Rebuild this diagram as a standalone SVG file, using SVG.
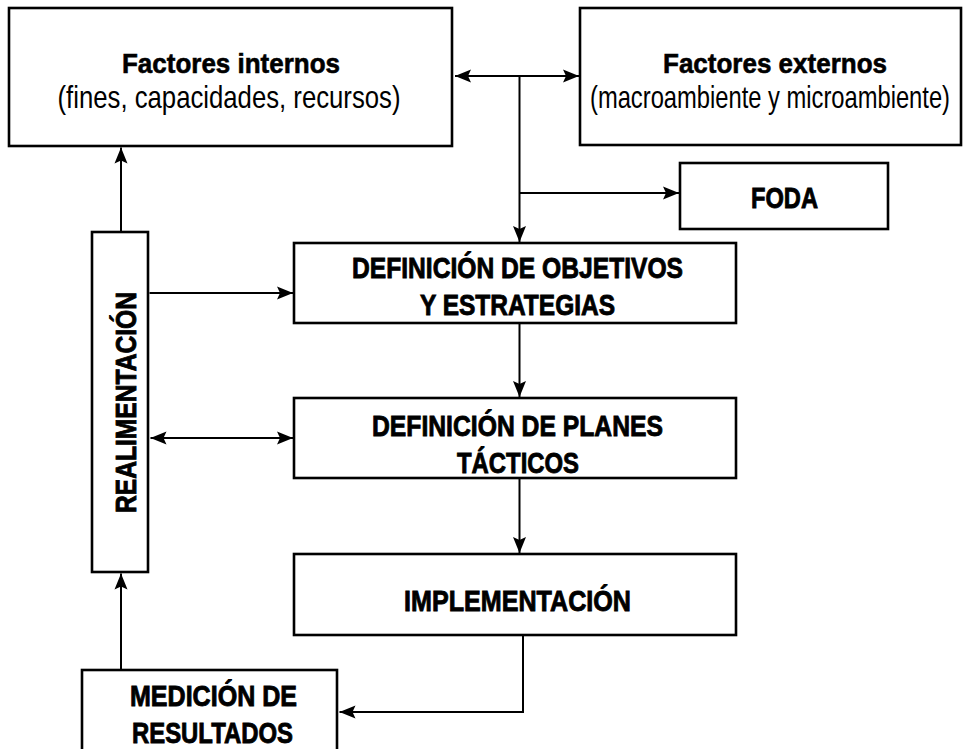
<svg xmlns="http://www.w3.org/2000/svg" width="963" height="749" viewBox="0 0 963 749">
<style>
.box{fill:#fff;stroke:#000;stroke-width:2.6}
.t{font-family:"Liberation Sans",Arial,sans-serif;fill:#000;text-anchor:middle}
.b{font-weight:bold;font-size:30px;stroke:#000;stroke-width:0.9}
.h{font-weight:bold;font-size:28px;stroke:#000;stroke-width:0.6}
.r{font-weight:normal;font-size:24px}
.c{fill:none;stroke:#000;stroke-width:2}
</style>
<defs>
<marker id="ah" markerUnits="userSpaceOnUse" markerWidth="17" markerHeight="14" refX="16" refY="7" orient="auto-start-reverse" viewBox="0 0 17 14">
<path d="M0,0.5 L16,7 L0,13.5 L3,7 Z" fill="#000"/>
</marker>
</defs>
<rect width="963" height="749" fill="#fff"/>
<g id="connectors">
<line class="c" x1="455" y1="76" x2="579" y2="76" marker-start="url(#ah)" marker-end="url(#ah)"/>
<line class="c" x1="519.5" y1="76" x2="519.5" y2="242" marker-end="url(#ah)"/>
<line class="c" x1="519.5" y1="193" x2="679" y2="193" marker-end="url(#ah)"/>
<line class="c" x1="149.5" y1="293" x2="293" y2="293" marker-end="url(#ah)"/>
<line class="c" x1="150.5" y1="438" x2="293" y2="438" marker-start="url(#ah)" marker-end="url(#ah)"/>
<line class="c" x1="519.5" y1="324" x2="519.5" y2="397" marker-end="url(#ah)"/>
<line class="c" x1="519.5" y1="479" x2="519.5" y2="553" marker-end="url(#ah)"/>
<path class="c" d="M523,636 V712 H339.5" marker-end="url(#ah)"/>
<line class="c" x1="121" y1="669" x2="121" y2="573.5" marker-end="url(#ah)"/>
<line class="c" x1="121" y1="231" x2="121" y2="147.5" marker-end="url(#ah)"/>
</g>
<g id="factores-internos">
<rect class="box" x="9" y="8" width="443" height="138"/>
<text class="t h" x="231" y="72.5" textLength="218" lengthAdjust="spacingAndGlyphs">Factores internos</text>
<text class="t r" transform="translate(229,108) scale(1,1.29)" x="0" y="0" textLength="343" lengthAdjust="spacingAndGlyphs">(fines, capacidades, recursos)</text>
</g>
<g id="factores-externos">
<rect class="box" x="580" y="8" width="381" height="137"/>
<text class="t h" x="775" y="72.5" textLength="224" lengthAdjust="spacingAndGlyphs">Factores externos</text>
<text class="t r" transform="translate(770,108) scale(1,1.29)" x="0" y="0" textLength="360" lengthAdjust="spacingAndGlyphs">(macroambiente y microambiente)</text>
</g>
<g id="foda">
<rect class="box" x="680" y="163" width="208" height="66"/>
<text class="t b" x="784.5" y="208" textLength="67" lengthAdjust="spacingAndGlyphs">FODA</text>
</g>
<g id="realimentacion">
<rect class="box" x="92" y="232" width="56" height="340"/>
<text class="t b" transform="translate(136,402.5) rotate(-90)" x="0" y="0" textLength="221" lengthAdjust="spacingAndGlyphs">REALIMENTACIÓN</text>
</g>
<g id="objetivos">
<rect class="box" x="294" y="243" width="442" height="80"/>
<text class="t b" x="517.5" y="277.5" textLength="331" lengthAdjust="spacingAndGlyphs">DEFINICIÓN DE OBJETIVOS</text>
<text class="t b" x="517.5" y="314.5" textLength="195" lengthAdjust="spacingAndGlyphs">Y ESTRATEGIAS</text>
</g>
<g id="planes">
<rect class="box" x="294" y="398" width="442" height="80"/>
<text class="t b" x="517.5" y="435.5" textLength="291" lengthAdjust="spacingAndGlyphs">DEFINICIÓN DE PLANES</text>
<text class="t b" x="518" y="472.5" textLength="122" lengthAdjust="spacingAndGlyphs">TÁCTICOS</text>
</g>
<g id="implementacion">
<rect class="box" x="294" y="554" width="442" height="81"/>
<text class="t b" x="517.5" y="610.5" textLength="227" lengthAdjust="spacingAndGlyphs">IMPLEMENTACIÓN</text>
</g>
<g id="medicion">
<rect class="box" x="82" y="670" width="255" height="100"/>
<text class="t b" x="213.5" y="705.5" textLength="167" lengthAdjust="spacingAndGlyphs">MEDICIÓN DE</text>
<text class="t b" x="212.5" y="742.5" textLength="161" lengthAdjust="spacingAndGlyphs">RESULTADOS</text>
</g>
</svg>
